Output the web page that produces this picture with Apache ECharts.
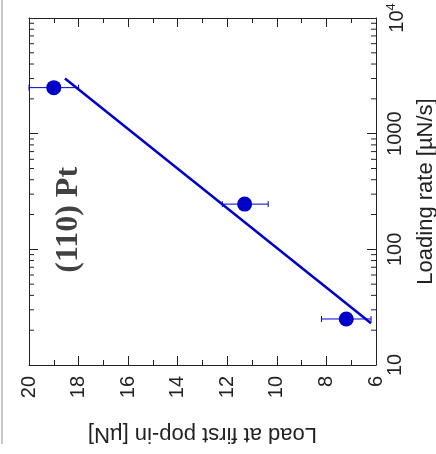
<!DOCTYPE html>
<html>
<head>
<meta charset="utf-8">
<script src="https://cdn.jsdelivr.net/npm/echarts@6/dist/echarts.min.js"></script>
<style>
html, body { margin: 0; padding: 0; background: #fff; }
#chart { width: 436px; height: 454px; }
</style>
</head>
<body>
<div id="chart"></div>
<script>
// measured points: load at first pop-in vs loading rate
var loadVals = [19.0, 11.3, 7.2];
var rateVals = [2500, 246, 25];
var loadErrLo = [18.0, 10.35, 6.2];
var loadErrHi = [20.0, 12.2, 8.2];

// fitted line end points
var fitLoad = [18.55, 6.2];
var fitRate = [3000, 23];

var rateMinor = [20, 30, 40, 50, 60, 70, 80, 90, 200, 300, 400, 500, 600, 700, 800, 900,
	2000, 3000, 4000, 5000, 6000, 7000, 8000, 9000];

var blue = '#0000c8';
var ink = '#222';

var points = [];
var errs = [];
for (var i = 0; i < loadVals.length; i++) {
	points.push([loadVals[i], rateVals[i]]);
	errs.push([loadErrLo[i], loadErrHi[i], rateVals[i]]);
}
var fit = [];
for (var i = 0; i < fitLoad.length; i++) fit.push([fitLoad[i], fitRate[i]]);

var chart = echarts.init(document.getElementById('chart'));

var options = {
	animation: false,
	backgroundColor: '#fff',
	grid: { left: 29, right: 60, top: 18, bottom: 89, containLabel: false, outerBoundsMode: 'none' },
	graphic: [{
		type: 'line',
		shape: { x1: 2, y1: 0, x2: 2, y2: 444 },
		style: { stroke: '#c8c8c8', lineWidth: 2 }
	}],
	xAxis: [{
		type: 'value', min: 6, max: 20, interval: 2, inverse: true, position: 'bottom',
		splitLine: { show: false },
		axisLine: { onZero: false, lineStyle: { color: ink, width: 1 } },
		axisTick: { inside: true, length: 9, lineStyle: { color: ink } },
		minorTick: { show: true, splitNumber: 2, length: 5, lineStyle: { color: ink } },
		axisLabel: { rotate: 90, margin: 11, fontSize: 20, color: ink, fontFamily: 'Liberation Sans', showMaxLabel: true, showMinLabel: true },
		name: 'Load at first pop-in [\u00b5N]', nameLocation: 'middle', nameGap: 58, nameRotate: 180,
		nameTextStyle: { fontSize: 22, color: ink, fontFamily: 'Liberation Sans' }
	}, {
		type: 'value', min: 6, max: 20, interval: 2, inverse: true, position: 'top',
		splitLine: { show: false },
		axisLine: { onZero: false, lineStyle: { color: ink, width: 1 } },
		axisTick: { inside: true, length: 9, lineStyle: { color: ink } },
		minorTick: { show: true, splitNumber: 2, length: 5, lineStyle: { color: ink } },
		axisLabel: { show: false }
	}],
	yAxis: [{
		type: 'log', logBase: 10, min: 10, max: 10000, position: 'right',
		splitLine: { show: false },
		axisLine: { onZero: false, lineStyle: { color: ink, width: 1 } },
		axisTick: { inside: true, length: 9, lineStyle: { color: ink } },
		axisLabel: {
			rotate: 90, margin: 9, fontSize: 20, color: ink, fontFamily: 'Liberation Sans',
			formatter: function (v) {
				if (v === 10000) return '10{sup|4}';
				return String(v);
			},
			rich: { sup: { fontSize: 13, verticalAlign: 'top', padding: [0, 0, 12, 0], color: ink, fontFamily: 'Liberation Sans' } }
		},
		name: 'Loading rate [\u00b5N/s]', nameLocation: 'middle', nameGap: 38, nameRotate: 90,
		nameTextStyle: { fontSize: 22, color: ink, fontFamily: 'Liberation Sans' }
	}, {
		type: 'log', logBase: 10, min: 10, max: 10000, position: 'left',
		splitLine: { show: false },
		axisLine: { onZero: false, lineStyle: { color: ink, width: 1 } },
		axisTick: { inside: true, length: 9, lineStyle: { color: ink } },
		axisLabel: { show: false }
	}],
	series: [{
		// minor log ticks on left and right frame
		type: 'custom',
		silent: true,
		data: rateMinor.map(function (v) { return [v]; }),
		renderItem: function (params, api) {
			var l = api.coord([20, api.value(0)]);
			var r = api.coord([6, api.value(0)]);
			return {
				type: 'group',
				children: [
					{ type: 'line', shape: { x1: l[0], y1: l[1], x2: l[0] + 5, y2: l[1] }, style: { stroke: ink, lineWidth: 1 } },
					{ type: 'line', shape: { x1: r[0], y1: r[1], x2: r[0] - 5, y2: r[1] }, style: { stroke: ink, lineWidth: 1 } }
				]
			};
		},
		z: 1
	}, {
		type: 'line',
		data: fit,
		symbol: 'none',
		lineStyle: { color: blue, width: 2.5 },
		z: 2
	}, {
		type: 'custom',
		data: errs,
		renderItem: function (params, api) {
			var a = api.coord([api.value(0), api.value(2)]);
			var b = api.coord([api.value(1), api.value(2)]);
			var st = { stroke: blue, lineWidth: 1 };
			return {
				type: 'group',
				children: [
					{ type: 'line', shape: { x1: a[0], y1: a[1], x2: b[0], y2: b[1] }, style: st },
					{ type: 'line', shape: { x1: a[0], y1: a[1] - 3, x2: a[0], y2: a[1] + 3 }, style: st },
					{ type: 'line', shape: { x1: b[0], y1: b[1] - 3, x2: b[0], y2: b[1] + 3 }, style: st }
				]
			};
		},
		z: 3
	}, {
		type: 'scatter',
		data: points,
		symbol: 'circle',
		symbolSize: 15,
		itemStyle: { color: blue, opacity: 1 },
		z: 4
	}, {
		type: 'scatter',
		data: [[18.4, 180]],
		symbolSize: 0,
		silent: true,
		label: {
			show: true, position: 'inside', rotate: 90,
			formatter: '(110) Pt',
			fontSize: 32, fontWeight: 'bold', color: '#111', fontFamily: 'Liberation Serif'
		},
		z: 5
	}]
};

chart.setOption(options);
</script>
</body>
</html>
